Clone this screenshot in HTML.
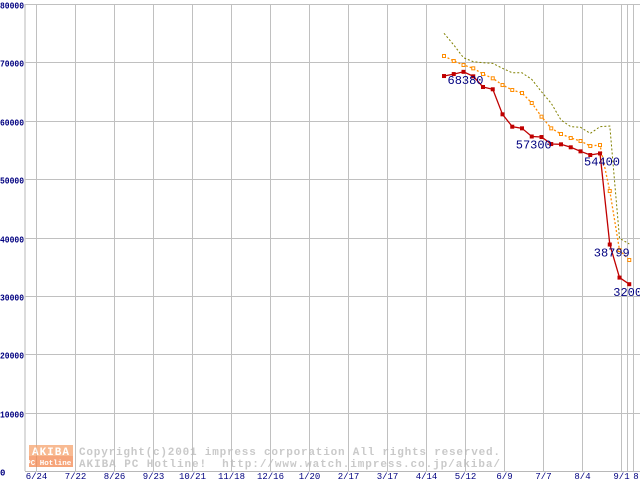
<!DOCTYPE html>
<html><head><meta charset="utf-8"><style>
body{margin:0;background:#fff;width:640px;height:480px;overflow:hidden}
svg text{font-family:"Liberation Mono","DejaVu Sans Mono",monospace}
</style></head><body>
<svg id="chart" width="640" height="480" viewBox="0 0 640 480" xmlns="http://www.w3.org/2000/svg">
<g id="grid"></g>
<g id="yaxis"></g>
<g id="xaxis"></g>
<g id="watermark" opacity="0.75">
  <rect x="29" y="445" width="44" height="11" fill="#f6a46e"/>
  <rect x="29" y="456" width="44" height="11" fill="#f48850"/>
  <text x="51" y="455" fill="#fff" font-size="11" font-weight="bold" text-anchor="middle" letter-spacing="1">AKIBA</text>
  <text x="51" y="465" fill="#fff" font-size="7.5" font-weight="bold" text-anchor="middle">PC Hotline!</text>
  <text x="79" y="455" fill="#b8b8b8" font-size="11" font-weight="bold" textLength="421" lengthAdjust="spacing">Copyright(c)2001 impress corporation All rights reserved.</text>
  <text x="79" y="467" fill="#b8b8b8" font-size="11" font-weight="bold" textLength="421" lengthAdjust="spacing" xml:space="preserve">AKIBA PC Hotline!  http://www.watch.impress.co.jp/akiba/</text>
</g>
<g id="series"></g>
</svg>
<script>
const yTicks=[0,10000,20000,30000,40000,50000,60000,70000,80000];
const xTickLabels=["6/24","7/22","8/26","9/23","10/21","11/18","12/16","1/20","2/17","3/17","4/14","5/12","6/9","7/7","8/4","9/1"];
const redValues=[67660,68000,68380,67610,65780,65390,61100,58980,58700,57300,57210,56010,55960,55450,54760,54130,54400,38799,33130,32000];
const orangeValues=[71090,70230,69550,68980,68000,67270,66120,65270,64750,63040,60700,58700,57730,57040,56530,55670,55840,47960,37860,36140];
const oliveValues=[74980,72970,70800,70110,69940,69830,68980,68220,68220,67080,64960,62970,60120,58980,58870,57840,58980,59100,39860,38890];
const labelIdx=[2,9,16,17,19];
const labelText=["68380","57300","54400","38799","32000"];

const NS="http://www.w3.org/2000/svg";
const L=25,T=4,B=471,R=640;
const yS=v=>B-(v/80000)*(B-T);
const xTick=i=>35.5+i*39;
const xPt=i=>444+i*9.75;
function mk(tag,attrs,parent){const e=document.createElementNS(NS,tag);for(const k in attrs)e.setAttribute(k,attrs[k]);parent.appendChild(e);return e;}
const grid=document.getElementById('grid'),ya=document.getElementById('yaxis'),xa=document.getElementById('xaxis'),ser=document.getElementById('series');
mk('line',{x1:L,y1:T,x2:L,y2:B,stroke:'#b8b8b8','stroke-width':1},grid);
yTicks.forEach((v,i)=>{
  const y=Math.round(yS(v))+0.5;
  if(v>0){const g=mk('line',{x1:L,y1:y,x2:R,y2:y,stroke:'#c0c0c0','stroke-width':1},grid);
  
  }
  const s=String(v);
  const attrs={x:v===0?0:0,y:y+4,'font-size':9,'font-weight':'bold',fill:'#000080'};
  if(s.length>1){attrs.textLength=24;attrs.lengthAdjust='spacingAndGlyphs';}
  const t=mk('text',attrs,ya);
  
  
  t.textContent=s;
});
mk('line',{x1:L,y1:B+0.5,x2:R,y2:B+0.5,stroke:'#b8b8b8','stroke-width':1},grid);
xTickLabels.forEach((s,i)=>{
  const x=Math.round(xTick(i))+0.5;
  const g=mk('line',{x1:x,y1:T,x2:x,y2:B,stroke:'#c0c0c0','stroke-width':1},grid);
  
  
  const t=mk('text',{x:x,y:479,'text-anchor':'middle','font-size':9,fill:'#000080'},xa);
  
  
  t.textContent=s;
});
[627.5,633.5].forEach(x=>{const g=mk('line',{x1:x,y1:T,x2:x,y2:B,stroke:'#c0c0c0','stroke-width':1},grid);

});
const t8=mk('text',{x:636,y:479,'text-anchor':'middle','font-size':9,fill:'#000080'},xa);


t8.textContent='8';
function pts(vals){return vals.map((v,i)=>xPt(i).toFixed(1)+','+yS(v).toFixed(1)).join(' ');}
const ol=mk('polyline',{points:pts(oliveValues),fill:'none',stroke:'#808000','stroke-width':1,'stroke-dasharray':'2,2'},ser);


const orl=mk('polyline',{points:pts(orangeValues),fill:'none',stroke:'#ff8c00','stroke-width':1.3,'stroke-dasharray':'2,2'},ser);


orangeValues.forEach((v,i)=>{const m=mk('rect',{x:xPt(i)-1.5,y:yS(v)-1.5,width:3,height:3,fill:'#fff',stroke:'#ff8c00','stroke-width':1},ser);

});
const rl=mk('polyline',{points:pts(redValues),fill:'none',stroke:'#c00000','stroke-width':1.3},ser);


redValues.forEach((v,i)=>{const m=mk('rect',{x:xPt(i)-2,y:yS(v)-2,width:4,height:4,fill:'#c00000'},ser);

});
labelIdx.forEach((idx,k)=>{
  const t=mk('text',{x:xPt(idx)-16,y:yS(redValues[idx])+12,'font-size':12,fill:'#000080','font-family':'Liberation Sans, sans-serif'},ser);
  
  
  t.textContent=labelText[k];
});
</script>
</body></html>
